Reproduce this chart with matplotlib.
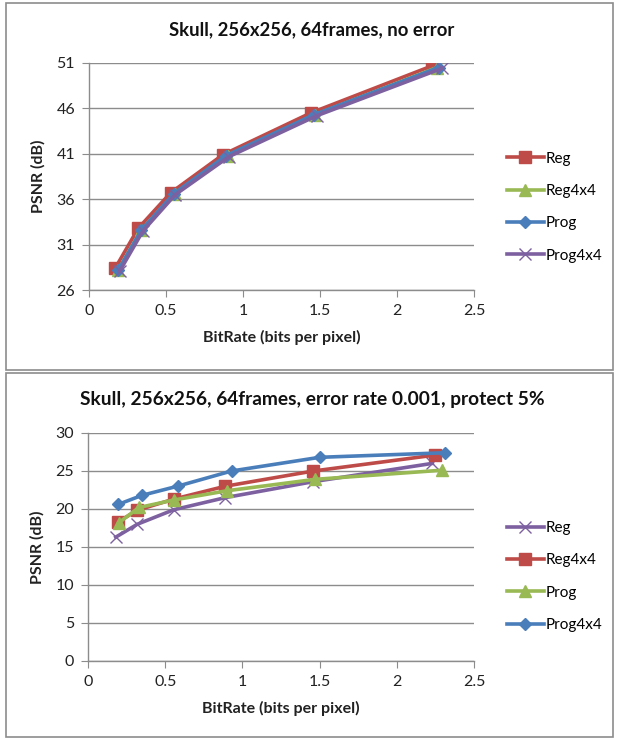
import matplotlib
matplotlib.use("Agg")
import matplotlib.pyplot as plt
from matplotlib.patches import Rectangle

plt.rcParams['font.family'] = ['Lato', 'DejaVu Sans']

# ---- data: top chart (no error) ----
top_title = "Skull, 256x256, 64frames, no error"
top_names = ["Reg", "Reg4x4", "Prog", "Prog4x4"]
top_reg_x = [0.17, 0.32, 0.53, 0.87, 1.44, 2.23]
top_reg_y = [28.4, 32.8, 36.7, 40.9, 45.5, 50.7]
top_reg4_x = [0.19, 0.34, 0.56, 0.90, 1.47, 2.26]
top_reg4_y = [28.2, 32.6, 36.6, 40.8, 45.3, 50.5]
top_prog_x = [0.19, 0.34, 0.55, 0.89, 1.46, 2.27]
top_prog_y = [28.2, 32.6, 36.6, 40.8, 45.3, 50.5]
top_prog4_x = [0.20, 0.35, 0.56, 0.91, 1.48, 2.29]
top_prog4_y = [28.1, 32.5, 36.5, 40.7, 45.2, 50.4]
top_yticks = [26, 31, 36, 41, 46, 51]

# ---- data: bottom chart (error rate 0.001) ----
bot_title = "Skull, 256x256, 64frames, error rate 0.001, protect 5%"
bot_names = ["Reg", "Reg4x4", "Prog", "Prog4x4"]
bot_reg_x = [0.18, 0.32, 0.555, 0.89, 1.46, 2.23]
bot_reg_y = [16.3, 18.0, 19.9, 21.5, 23.6, 26.0]
bot_reg4_x = [0.195, 0.32, 0.555, 0.89, 1.46, 2.25]
bot_reg4_y = [18.3, 19.85, 21.3, 23.0, 25.0, 27.1]
bot_prog_x = [0.20, 0.33, 0.56, 0.90, 1.47, 2.29]
bot_prog_y = [18.2, 20.2, 21.2, 22.4, 23.9, 25.1]
bot_prog4_x = [0.195, 0.35, 0.58, 0.93, 1.50, 2.31]
bot_prog4_y = [20.6, 21.8, 23.0, 25.0, 26.8, 27.4]
bot_yticks = [0, 5, 10, 15, 20, 25, 30]

xticks = [0, 0.5, 1, 1.5, 2, 2.5]
xtick_labels = ["0", "0.5", "1", "1.5", "2", "2.5"]
xlabel = "BitRate (bits per pixel)"
ylabel = "PSNR (dB)"

RED = '#BE4B48'
GREEN = '#98B954'
BLUE = '#4A7EBB'
PURPLE = '#7D60A0'

W, H = 617, 738
fig = plt.figure(figsize=(W / 100, H / 100), dpi=100)

# panel borders
fig.patches.append(Rectangle((6 / W, 1 - 370 / H), (613 - 6) / W, (370 - 3) / H,
                             transform=fig.transFigure, fill=False,
                             edgecolor='#8c8c8c', linewidth=1.2))
fig.patches.append(Rectangle((6 / W, 1 - 737 / H), (613 - 6) / W, (737 - 373) / H,
                             transform=fig.transFigure, fill=False,
                             edgecolor='#8c8c8c', linewidth=1.2))


def style_axes(ax, yticks, title, title_y, title_size):
    ax.set_xlim(0, 2.5)
    ax.set_ylim(yticks[0], yticks[-1])
    ax.set_xticks(xticks)
    ax.set_xticklabels(xtick_labels)
    ax.set_yticks(yticks)
    ax.grid(axis='y', color='#8c8c8c', linewidth=1.0)
    ax.set_axisbelow(True)
    for s in ['top', 'right']:
        ax.spines[s].set_visible(False)
    for s in ['left', 'bottom']:
        ax.spines[s].set_color('#8c8c8c')
        ax.spines[s].set_linewidth(1.0)
    ax.tick_params(axis='both', direction='out', length=5, color='#8c8c8c',
                   labelsize=11.5, labelcolor='#222222', pad=5)
    ax.set_xlabel(xlabel, fontsize=11.5, fontweight='bold', labelpad=9, color='#222222')
    ax.set_ylabel(ylabel, fontsize=11.5, fontweight='bold', labelpad=8, color='#222222')
    fig.text(312 / W, 1 - title_y / H, title,
             ha='center', va='center', fontsize=title_size, fontweight='bold', color='#111111')


lw = 2.6
# ---- top ----
ax1 = fig.add_axes([89 / W, 1 - 290 / H, (474 - 89) / W, (290 - 63) / H])
ax1.plot(top_reg_x, top_reg_y, color=RED, lw=lw, marker='s', ms=8, label=top_names[0])
ax1.plot(top_reg4_x, top_reg4_y, color=GREEN, lw=lw, marker='^', ms=8, label=top_names[1])
ax1.plot(top_prog_x, top_prog_y, color=BLUE, lw=lw, marker='D', ms=6, label=top_names[2])
ax1.plot(top_prog4_x, top_prog4_y, color=PURPLE, lw=lw, marker='x', ms=9, mew=1.0, label=top_names[3])
style_axes(ax1, top_yticks, top_title, 30, 13.3)
ax1.legend(loc='center left', bbox_to_anchor=(1.05, 0.365), frameon=False,
           fontsize=11, handlelength=2.4, handletextpad=0.1, labelspacing=1.2)

# ---- bottom ----
ax2 = fig.add_axes([88 / W, 1 - 661 / H, (474 - 88) / W, (661 - 433) / H])
ax2.plot(bot_reg_x, bot_reg_y, color=PURPLE, lw=lw, marker='x', ms=9, mew=1.0, label=bot_names[0])
ax2.plot(bot_reg4_x, bot_reg4_y, color=RED, lw=lw, marker='s', ms=8, label=bot_names[1])
ax2.plot(bot_prog_x, bot_prog_y, color=GREEN, lw=lw, marker='^', ms=8, label=bot_names[2])
ax2.plot(bot_prog4_x, bot_prog4_y, color=BLUE, lw=lw, marker='D', ms=6, label=bot_names[3])
style_axes(ax2, bot_yticks, bot_title, 399, 13.8)
ax2.legend(loc='center left', bbox_to_anchor=(1.05, 0.37), frameon=False,
           fontsize=11, handlelength=2.4, handletextpad=0.1, labelspacing=1.2)

fig.savefig("out.png", dpi=100, facecolor='white')
